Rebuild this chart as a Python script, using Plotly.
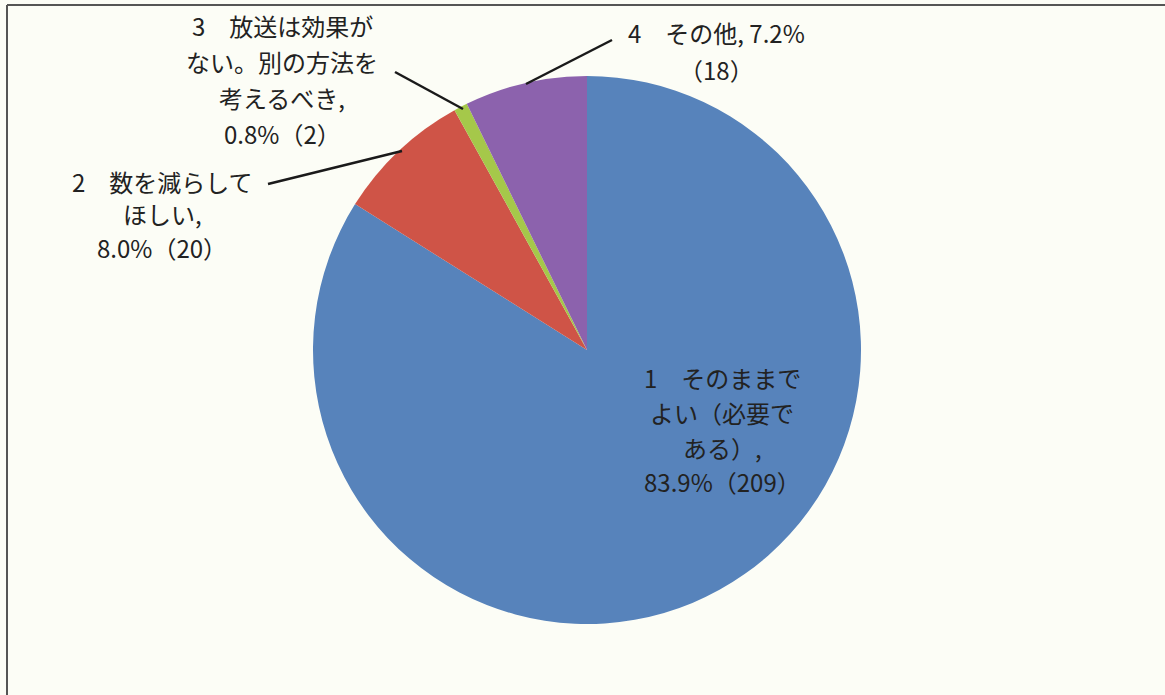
import plotly.graph_objects as go

# ---- data ----
categories = ["1　そのままでよい（必要である）", "2　数を減らしてほしい",
              "3　放送は効果がない。別の方法を考えるべき", "4　その他"]
counts = [209, 20, 2, 18]
colors = ["#5783bb", "#cf5447", "#a5c84a", "#8c62ad"]

# label text lines (the number/percentage line is added from the data)
label_lines = [
    ["1　そのままで", "よい（必要で", "ある）,"],
    ["2　数を減らして", "ほしい,"],
    ["3　放送は効果が", "ない。別の方法を", "考えるべき,"],
    ["4　その他,"],
]

total = sum(counts)
pcts = [c / total * 100 for c in counts]

W, H = 1165, 695
FONT = "Noto Sans CJK JP, Noto Sans, sans-serif"
FS = 24

fig = go.Figure(go.Pie(
    labels=categories, values=counts, sort=False, direction="clockwise",
    rotation=0, marker=dict(colors=colors, line=dict(width=0)),
    textinfo="none", hoverinfo="label+value+percent", showlegend=False,
    domain=dict(x=[(587 - 274) / W, (587 + 274) / W],
                y=[(H - 350 - 274) / H, (H - 350 + 274) / H]),
))

def px(x):
    return x / W

def py(y):
    return 1 - y / H

annotations = []

def add_lines(lines, cx, y0, dy):
    for i, t in enumerate(lines):
        annotations.append(dict(
            x=px(cx), y=py(y0 + i * dy), xref="paper", yref="paper",
            text=t, showarrow=False, xanchor="center", yanchor="middle",
            font=dict(family=FONT, size=FS, color="#222222")))

# label 1 (inside)
add_lines(label_lines[0] + [f"{pcts[0]:.1f}%（{counts[0]}）"], 722, 377, 35)
# label 2
add_lines(label_lines[1] + [f"{pcts[1]:.1f}%（{counts[1]}）"], 162, 181, 33)
# label 3
add_lines(label_lines[2] + [f"{pcts[2]:.1f}%（{counts[2]}）"], 282, 25, 36)
# label 4
add_lines([f"{label_lines[3][0]} {pcts[3]:.1f}%", f"（{counts[3]}）"], 716, 33, 36)

shapes = [
    # leader lines
    dict(type="line", xref="paper", yref="paper", x0=px(268), y0=py(184),
         x1=px(402), y1=py(151), line=dict(color="#1a1a1a", width=2.5)),
    dict(type="line", xref="paper", yref="paper", x0=px(395), y0=py(72),
         x1=px(463), y1=py(109), line=dict(color="#1a1a1a", width=2.5)),
    dict(type="line", xref="paper", yref="paper", x0=px(526), y0=py(84),
         x1=px(612), y1=py(40), line=dict(color="#1a1a1a", width=2.5)),
    # frame
    dict(type="line", xref="paper", yref="paper", x0=px(7), y0=py(5),
         x1=px(1165), y1=py(5), line=dict(color="#555555", width=2)),
    dict(type="line", xref="paper", yref="paper", x0=px(7), y0=py(5),
         x1=px(7), y1=py(695), line=dict(color="#555555", width=2)),
]

fig.update_layout(
    width=W, height=H, margin=dict(l=0, r=0, t=0, b=0),
    paper_bgcolor="#fcfdf6", plot_bgcolor="#fcfdf6",
    annotations=annotations, shapes=shapes,
)

fig.write_html("out.html", config={"displayModeBar": False},
               post_script="document.body.style.margin='0px';"
                           "document.body.style.background='#fcfdf6';")
